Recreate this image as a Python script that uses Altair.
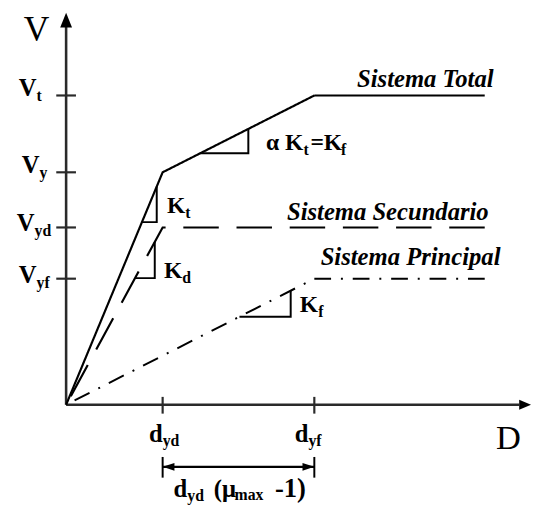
import altair as alt
import pandas as pd
import numpy as np

# ---- schematic values (units: offsets from the origin) ----
dyd = 98      # yield displacement of the secondary (damper) system
dyf = 252     # yield displacement of the principal (frame) system
Vt = 314      # total strength
Vy = 236      # total shear at dyd
Vyd = 180     # secondary yield shear
Vyf = 128     # principal yield shear
D_end = 425   # end of the plotted plateaus

total_x = [0, dyd, dyf, D_end]
total_y = [0, Vy, Vt, Vt]
sec_x = [0, dyd, D_end]
sec_y = [0, Vyd, Vyd]
pri_x = [0, dyf, D_end]
pri_y = [0, Vyf, Vyf]

y_ticks = [Vt, Vy, Vyd, Vyf]
x_ticks = [dyd, dyf]

# slope triangles: (curve, x of left end of horizontal leg, x of vertical leg)
tri_kt = ("total", 77, 92)
tri_kd = ("sec", 70, 90)
tri_kf = ("pri", 176, 228)
tri_ak = ("total", 136, 185)

curves = {"total": (total_x, total_y), "sec": (sec_x, sec_y), "pri": (pri_x, pri_y)}

XS = alt.Scale(domain=[-59, 473], nice=False, zero=False)
YS = alt.Scale(domain=[-101, 399], nice=False, zero=False)


def X(f="x"):
    return alt.X(f"{f}:Q", scale=XS, axis=None)


def Y(f="y"):
    return alt.Y(f"{f}:Q", scale=YS, axis=None)


def curve_layer(xs, ys, dash, width=2.2):
    # path drawn from the far end back to the origin (sets dash phase)
    df = pd.DataFrame({"x": xs[::-1], "y": ys[::-1], "i": list(range(len(xs)))})
    return alt.Chart(df).mark_line(color="black", strokeWidth=width, strokeDash=dash,
                                   strokeJoin="miter").encode(x=X(), y=Y(), order="i:O")


def triangle_layer(spec):
    name, x0, x1 = spec
    cx, cy = curves[name]
    y0 = float(np.interp(x0, cx, cy))
    y1 = float(np.interp(x1, cx, cy))
    df = pd.DataFrame({"x": [x0, x1, x1], "y": [y0, y0, y1], "i": [0, 1, 2]})
    return alt.Chart(df).mark_line(color="black", strokeWidth=2).encode(
        x=X(), y=Y(), order="i:O")


AX = "#2a2a2a"

# axes lines
axes_df = pd.DataFrame({"x": [0, 0], "x2": [0, 460], "y": [0, 0], "y2": [384, 0]})
axes = alt.Chart(axes_df).mark_rule(color=AX, strokeWidth=2.6).encode(
    x=X(), x2="x2:Q", y=Y(), y2="y2:Q")

ytick_df = pd.DataFrame({"y": y_ticks, "x": [-10] * 4, "x2": [10] * 4})
yticks = alt.Chart(ytick_df).mark_rule(color=AX, strokeWidth=2.2).encode(
    x=X(), x2="x2:Q", y=Y())

xtick_df = pd.DataFrame({"x": x_ticks, "y": [8] * 2, "y2": [-9] * 2})
xticks = alt.Chart(xtick_df).mark_rule(color=AX, strokeWidth=2.2).encode(
    x=X(), y=Y(), y2="y2:Q")

# dimension line dyd (mu_max - 1)
dim_df = pd.DataFrame({"x": [dyd], "x2": [dyf], "y": [-63]})
dim = alt.Chart(dim_df).mark_rule(color="black", strokeWidth=2.2).encode(
    x=X(), x2="x2:Q", y=Y())
dimend_df = pd.DataFrame({"x": [dyd, dyf], "y": [-53, -53], "y2": [-74, -74]})
dimends = alt.Chart(dimend_df).mark_rule(color="black", strokeWidth=2).encode(
    x=X(), y=Y(), y2="y2:Q")


def arrow(x, y, path, size):
    df = pd.DataFrame({"x": [x], "y": [y]})
    return alt.Chart(df).mark_point(shape=path, size=size, filled=True, color="black",
                                    opacity=1, strokeWidth=0).encode(x=X(), y=Y())


arrows = [
    arrow(0, 398, "M0,0L-0.8,2L0.8,2Z", 225),          # V axis
    arrow(472, 0, "M0,0L-2,-0.85L-2,0.85Z", 144),      # D axis
    arrow(dyd, -63, "M0,0L2,-0.65L2,0.65Z", 144),      # dimension left
    arrow(dyf, -63, "M0,0L-2,-0.65L-2,0.65Z", 144),    # dimension right
]

# ---- text ----
main_right = pd.DataFrame([
    ("V", -30, 313, 25), ("V", -27, 235, 25), ("V", -32, 176, 25), ("V", -30, 124, 25),
    ("d", 98, -38, 25), ("d", 246, -38, 25), ("d", 123, -94, 25),
    ("K", 121, 195, 24), ("K", 118, 129, 24), ("K", 256, 94, 24),
    ("α K", 241, 259, 24),
], columns=["text", "x", "y", "size"])

left_bold = pd.DataFrame([
    ("t", -30, 308, 16), ("y", -27, 230, 16), ("yd", -32, 171, 16), ("yf", -30, 119, 16),
    ("yd", 98, -42, 16), ("yf", 246, -42, 16), ("yd", 123, -98, 16),
    ("(μ", 150, -94, 25), ("max", 171, -97, 16), ("-1)", 212, -94, 27),
    ("t", 121, 190, 16), ("d", 118, 124, 16), ("f", 256, 89, 16),
    ("t", 241, 254, 16), ("=K", 248, 259, 24), ("f", 279, 254, 16),
], columns=["text", "x", "y", "size"])

italic = pd.DataFrame([
    ("Sistema Total", 434, 323), ("Sistema Secundario", 429, 188),
    ("Sistema Principal", 441, 142),
], columns=["text", "x", "y"])

plain = pd.DataFrame([("V", -30, 369, 36), ("D", 449, -45, 35)],
                     columns=["text", "x", "y", "size"])

FONT = "Liberation Serif"
t_main = alt.Chart(main_right).mark_text(align="right", baseline="alphabetic", font=FONT,
                                         fontWeight="bold", color="black").encode(
    x=X(), y=Y(), text="text:N", size=alt.Size("size:Q", scale=None))
t_left = alt.Chart(left_bold).mark_text(align="left", baseline="alphabetic", font=FONT,
                                        fontWeight="bold", color="black").encode(
    x=X(), y=Y(), text="text:N", size=alt.Size("size:Q", scale=None))
t_ital = alt.Chart(italic).mark_text(align="right", baseline="alphabetic", font=FONT,
                                     fontWeight="bold", fontStyle="italic", fontSize=25,
                                     color="black").encode(x=X(), y=Y(), text="text:N")
t_plain = alt.Chart(plain).mark_text(align="center", baseline="alphabetic", font=FONT,
                                     color="black").encode(
    x=X(), y=Y(), text="text:N", size=alt.Size("size:Q", scale=None))

layers = [
    axes, yticks, xticks, dim, dimends,
    curve_layer(pri_x, pri_y, [17, 10, 2, 10], 2),
    curve_layer(sec_x, sec_y, [36, 18], 2.2),
    curve_layer(total_x, total_y, [1, 0], 2.2),
    triangle_layer(tri_kt), triangle_layer(tri_kd),
    triangle_layer(tri_kf), triangle_layer(tri_ak),
    *arrows,
    t_main, t_left, t_ital, t_plain,
]

chart = alt.layer(*layers).properties(
    width=532, height=500,
    autosize=alt.AutoSizeParams(type="none"),
    padding=0,
).configure_view(stroke=None)

chart.save("out.html", embed_options={"renderer": "svg", "actions": False})
